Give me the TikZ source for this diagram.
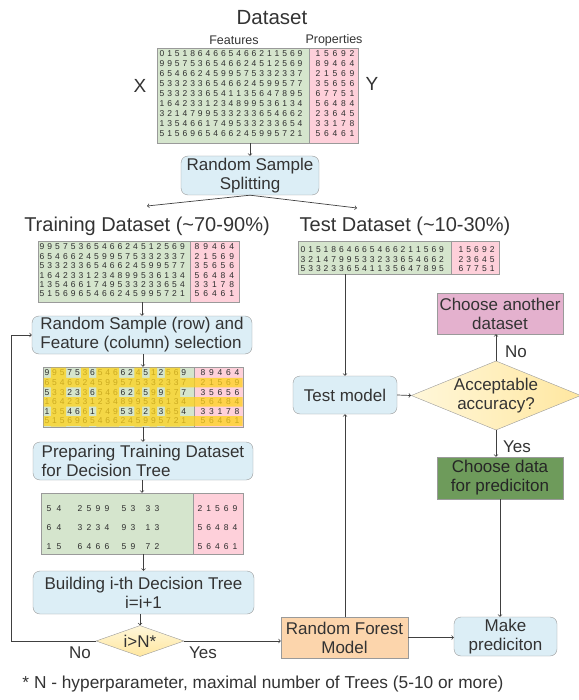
\documentclass[tikz,border=0pt]{standalone}
\usepackage{fontspec}
\setmainfont{Liberation Sans}
\usepackage{xstring}
\usepackage{tikz}
\usetikzlibrary{positioning,shapes.geometric}

\definecolor{ink}{HTML}{333333}
\definecolor{digitink}{HTML}{2E2E2E}
\definecolor{boxline}{HTML}{9A9A9A}
\definecolor{boxblue}{HTML}{DCEEF6}
\definecolor{tabgreen}{HTML}{D5E5CD}
\definecolor{tabpink}{HTML}{FED0DA}
\definecolor{hlyellow}{HTML}{FFD31A}
\definecolor{rforange}{HTML}{FCD5AC}
\definecolor{anotherpink}{HTML}{E4B1CE}
\definecolor{datagreen}{HTML}{6E9B5B}
\definecolor{arrowink}{HTML}{404040}
\definecolor{condtop}{HTML}{FFF7DA}
\definecolor{condbot}{HTML}{FFE7A0}

\newcommand{\boxfont}{\fontsize{17}{19}\selectfont}

% rows of digits: x0, y0, dx, dy, rows
\newcommand{\digitrows}[5]{%
  \foreach \r [count=\j from 0] in {#5}{
    \StrLen{\r}[\rowlen]
    \foreach \c in {1,...,\rowlen}
      \node[digit] at ({#1+(\c-1)*#3},{#2+\j*#4}) {\StrChar{\r}{\c}};
  }}

% table: name, x1, y1, xsplit, x2, y2
\newcommand{\datatable}[6]{%
  \fill[tabgreen] (#2,#3) rectangle (#4,#6);
  \fill[tabpink] (#4,#3) rectangle (#5,#6);
  \draw[tabframe] (#4,#3) -- (#4,#6);
  \node[tabframe, minimum width={#5-#2}, minimum height={#6-#3}] (#1) at ({(#2+#5)/2},{(#3+#6)/2}) {};}

\begin{document}
\begin{tikzpicture}
  [x=1pt,y=-1pt,
   every node/.style={text=ink},
   box/.style={draw=boxline, fill=boxblue, rounded corners=7pt, align=center, inner sep=1pt, font=\boxfont},
   plain/.style={draw=boxline, align=center, inner sep=1pt, font=\boxfont},
   choice/.style={diamond, draw=boxline, inner sep=0pt, align=center, font=\boxfont},
   digit/.style={inner sep=0pt, font=\fontsize{8.5}{8.5}\selectfont, text=digitink},
   title/.style={font=\fontsize{20}{22}\selectfont},
   tabframe/.style={draw=boxline, line width=.5pt, inner sep=0pt},
   flow/.style={->, draw=arrowink, line width=.7pt}]
  \useasboundingbox (0,0) rectangle (578,700);

  \node[font=\fontsize{20.5}{22}\selectfont] (dstitle) at (272,18) {Dataset};
  \node[font=\fontsize{12.5}{14}\selectfont] (feat) at (234,40) {Features};
  \node[font=\fontsize{12.5}{14}\selectfont] (prop) at (334,40) {Properties};
  \datatable{data}{157}{48}{309}{358}{143}
  \digitrows{162}{54}{7.67}{9.9}{0151864665466211569,9957536546624512569,6546624599575332337,5332336546624599577,5332336541135647895,1642331234899536134,3214799533233654662,1354661749533233654,5156965466245995721}
  \digitrows{318}{54}{8.5}{9.9}{15692,89464,21569,35656,67751,56484,23645,33178,56461}
  \node[font=\fontsize{19}{20}\selectfont] (xlab) at (140,86) {X};
  \node[font=\fontsize{19}{20}\selectfont] (ylab) at (372,84) {Y};

  \node[box, minimum width=138, minimum height=39] (split) at (250,175.5) {Random Sample\\Splitting};
  \node[title] (traintitle) at (147,226) {Training Dataset (\textasciitilde70-90\%)};
  \node[title] (testtitle) at (405,226) {Test Dataset (\textasciitilde10-30\%)};
  \coordinate (totrain) at (147,206);
  \coordinate (totest) at (357,208);

  \datatable{train}{38}{241}{190}{239}{302}
  \digitrows{42}{247}{7.8}{9.4}{9957536546624512569,6546624599575332337,5332336546624599577,1642331234899536134,1354661749533233654,5156965466245995721}
  \digitrows{197}{247}{8.7}{9.4}{89464,21569,35656,56484,33178,56461}

  \node[box, minimum width=220, minimum height=38, align=left] (sel) at (142,335) {Random Sample (row) and\\Feature (column) selection};

  \datatable{hl}{43}{367}{194}{243}{427}
  \digitrows{47}{373}{7.6}{9.6}{9957536546624512569,6546624599575332337,5332336546624599577,1642331234899536134,1354661749533233654,5156965466245995721}
  \digitrows{203}{373}{8.5}{9.6}{89464,21569,35656,56484,33178,56461}
  \fill[hlyellow, opacity=.75]
    \foreach \c in {2,3,6,8,9,10,13,15,17,18}{({47+(\c-1)*7.6-3.8},367.5) rectangle ++(7.6,59)}
    \foreach \r in {1,3,5}{(43.5,{373+\r*9.6-4.8}) rectangle ++(199,9.6)};

  \node[box, minimum width=220, minimum height=38, align=left] (prep) at (143,461) {Preparing Training Dataset\\for Decision Tree};

  \datatable{reduced}{41}{493}{193}{243}{554}
  \foreach \r [count=\j from 0] in {5425995333,6432349313,1564665972}
    \foreach \xx [count=\c] in {49,59,80,89,98,107,124,133,148,157}
      \node[digit] at (\xx,{509+\j*19}) {\StrChar{\r}{\c}};
  \digitrows{200}{509}{8.75}{19}{21569,56484,56461}

  \node[box, minimum width=221, minimum height=43] (build) at (143.5,592.5) {Building i-th Decision Tree\\i=i+1};
  \node[choice, aspect=2.84, minimum width=88, minimum height=31, top color=condtop, bottom color=condbot] (cond) at (140,641) {i>N*};
  \node[font=\boxfont] (nolow) at (80,653) {No};
  \node[font=\boxfont] (yeslow) at (203,653) {Yes};

  \node[plain, fill=rforange, minimum width=127, minimum height=41] (rf) at (344.5,637.5) {Random Forest\\Model};
  \node[box, minimum width=103, minimum height=39] (make) at (505.5,636.5) {Make\\prediciton};

  \datatable{testtab}{298}{241}{451}{499}{274}
  \digitrows{303}{250}{7.7}{9.5}{0151864665466211569,3214799533233654662,5332336541135647895}
  \digitrows{461}{250}{7.8}{9.5}{15692,23645,67751}

  \node[box, minimum width=104, minimum height=38] (testm) at (345,395) {Test model};
  \node[choice, aspect=2.45, minimum width=164, minimum height=67, left color=condtop, right color=condbot] (acc) at (496,395.5) {Acceptable\\accuracy?};
  \node[plain, fill=anotherpink, minimum width=126, minimum height=41] (another) at (500,313.5) {Choose another\\dataset};
  \node[plain, fill=datagreen, minimum width=126, minimum height=42, text=black!85] (choose) at (500,478) {Choose data\\for prediciton};
  \node[font=\boxfont] (noup) at (516,352) {No};
  \node[font=\boxfont] (yesup) at (517,447) {Yes};

  \node[font=\fontsize{17.3}{19}\selectfont] (note) at (263,684) {* N - hyperparameter, maximal number of Trees (5-10 or more)};

  \foreach \from/\to in {data/split, train/sel, sel/hl, hl/prep, prep/reduced, reduced/build, build/cond, testtab/testm}
    \draw[flow] (\to.north |- \from.south) -- (\to.north);
  \draw[flow] (split.south) -- (totrain);
  \draw[flow] (split.south) -- (totest);
  \draw[flow] (cond.west) -- ++(-84,0) |- (sel.west);
  \draw[flow] (cond.east) -- (cond.east -| rf.west);
  \draw[flow] (rf.east) -- (rf.east -| make.west);
  \draw[flow] (testm.south |- rf.north) -- (testm.south);
  \draw[flow] (testm.east) -- (acc.west);
  \draw[flow] (acc.north) -- (acc.north |- another.south);
  \draw[flow] (acc.south) -- (acc.south |- choose.north);
  \draw[flow] (choose.south) -- (choose.south |- make.north);
\end{tikzpicture}
\end{document}
